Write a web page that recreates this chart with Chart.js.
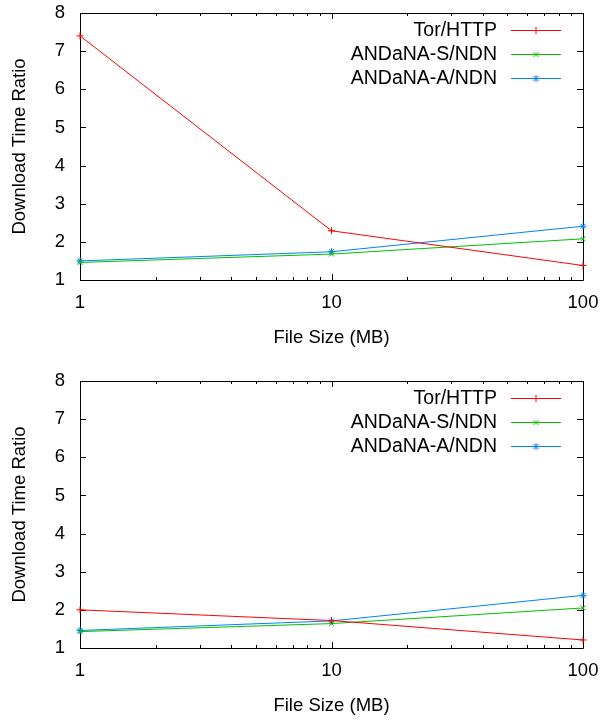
<!DOCTYPE html>
<html>
<head>
<meta charset="utf-8">
<script src="https://cdn.jsdelivr.net/npm/chart.js@4/dist/chart.umd.min.js"></script>
<style>
  html, body { margin: 0; padding: 0; background: #fff; }
  #wrap { position: relative; width: 613px; height: 723px; }
  canvas { position: absolute; left: 0; }
  #top { top: 0; }
  #bottom { top: 368px; }
</style>
</head>
<body>
<div id="wrap">
  <canvas id="top" width="613" height="355"></canvas>
  <canvas id="bottom" width="613" height="355"></canvas>
</div>
<script>
// ── Data ────────────────────────────────────────────
const fileSizes    = [1, 10, 100];
const seriesLabels = ['Tor/HTTP', 'ANDaNA-S/NDN', 'ANDaNA-A/NDN'];

// upper plot
const torTop     = [7.40, 2.29, 1.38];
const andanaSTop = [1.46, 1.68, 2.08];
const andanaATop = [1.50, 1.74, 2.41];

// lower plot
const torBottom     = [2.00, 1.72, 1.21];
const andanaSBottom = [1.43, 1.64, 2.05];
const andanaABottom = [1.46, 1.71, 2.38];

const xTicks = [1, 10, 100];
const yTicks = [1, 2, 3, 4, 5, 6, 7, 8];

const xTitle = 'File Size (MB)';
const yTitle = 'Download Time Ratio';

// ── Styling ──────────────────────────────────────────
const FONT = "'Liberation Sans', Arial, Helvetica, sans-serif";
const COLORS = ['#ff0000', '#00c000', '#0080ff'];
const MARKERS = ['cross', 'crossRot', 'star'];

// ── Border + inward ticks (gnuplot look) ─────────────
const framePlugin = {
  id: 'frame',
  beforeDatasetsDraw(chart) {
    const { ctx, chartArea: a, scales } = chart;
    const xs = scales.x, ys = scales.y;
    ctx.save();
    ctx.strokeStyle = '#000';
    ctx.lineWidth = 1;
    ctx.beginPath();
    ctx.rect(Math.round(a.left) + 0.5, Math.round(a.top) + 0.5,
             Math.round(a.right - a.left), Math.round(a.bottom - a.top));
    ctx.stroke();

    const MAJ = 6, MIN = 3;
    ctx.beginPath();
    // x major + minor ticks, bottom and top
    for (let d = 1; d < 100; d *= 10) {
      for (let k = 1; k <= 10; k++) {
        const v = d * k;
        const px = Math.round(xs.getPixelForValue(v)) + 0.5;
        const len = (k === 1 || k === 10) ? MAJ : MIN;
        ctx.moveTo(px, a.bottom); ctx.lineTo(px, a.bottom - len);
        ctx.moveTo(px, a.top);    ctx.lineTo(px, a.top + len);
      }
    }
    // y major ticks, left and right
    yTicks.forEach(v => {
      const py = Math.round(ys.getPixelForValue(v)) + 0.5;
      ctx.moveTo(a.left, py);  ctx.lineTo(a.left + MAJ, py);
      ctx.moveTo(a.right, py); ctx.lineTo(a.right - MAJ, py);
    });
    ctx.stroke();
    ctx.restore();
  }
};

// ── Key in the upper right corner ────────────────────
const keyPlugin = {
  id: 'key',
  afterDatasetsDraw(chart) {
    const { ctx, chartArea: a } = chart;
    ctx.save();
    ctx.font = '19.5px ' + FONT;
    ctx.textAlign = 'right';
    ctx.textBaseline = 'middle';
    chart.data.datasets.forEach((ds, i) => {
      const y = a.top + 17 + i * 24;
      ctx.fillStyle = '#000';
      ctx.fillText(ds.label, a.right - 86, y + 1);
      ctx.strokeStyle = ds.borderColor;
      ctx.lineWidth = 1;
      ctx.beginPath();
      ctx.moveTo(a.right - 72, y + 0.5);
      ctx.lineTo(a.right - 22, y + 0.5);
      ctx.stroke();
      Chart.helpers.drawPoint(ctx, {
        pointStyle: ds.pointStyle, radius: ds.pointRadius, rotation: 0, borderWidth: 1
      }, a.right - 47, y + 0.5);
    });
    ctx.restore();
  }
};

function makeDatasets(series) {
  return series.map((vals, i) => ({
    label: seriesLabels[i],
    data: fileSizes.map((x, j) => ({ x: x, y: vals[j] })),
    borderColor: COLORS[i],
    backgroundColor: COLORS[i],
    borderWidth: 1,
    pointStyle: MARKERS[i],
    pointRadius: 3.5,
    pointBorderWidth: 1,
    pointHoverRadius: 3.5,
    tension: 0,
    clip: false,
  }));
}

function makeChart(id, series) {
  return new Chart(document.getElementById(id), {
    type: 'line',
    data: { datasets: makeDatasets(series) },
    options: {
      responsive: false,
      animation: false,
      events: [],
      layout: { padding: { left: 0, right: 30, top: 13, bottom: 0 } },
      plugins: { legend: { display: false }, tooltip: { enabled: false } },
      scales: {
        x: {
          type: 'logarithmic',
          min: 1,
          max: 100,
          afterBuildTicks: s => { s.ticks = xTicks.map(v => ({ value: v })); },
          afterFit: s => { s.height = 75; s.paddingLeft = 0; s.paddingRight = 0; },
          grid: { display: false, drawTicks: false },
          border: { display: false },
          ticks: {
            color: '#000',
            padding: 12,
            maxRotation: 0,
            autoSkip: false,
            font: { family: FONT, size: 18.5 },
            callback: v => String(v),
          },
          title: {
            display: true,
            text: xTitle,
            color: '#000',
            font: { family: FONT, size: 18.5 },
            padding: { top: 0, bottom: 6 },
          },
        },
        y: {
          type: 'linear',
          min: 1,
          max: 8,
          afterBuildTicks: s => { s.ticks = yTicks.map(v => ({ value: v })); },
          afterFit: s => { s.width = 80; s.paddingTop = 0; s.paddingBottom = 0; },
          grid: { display: false, drawTicks: false },
          border: { display: false },
          ticks: {
            color: '#000',
            padding: 15,
            font: { family: FONT, size: 18.5 },
            callback: v => String(v),
          },
          title: {
            display: true,
            text: yTitle,
            color: '#000',
            font: { family: FONT, size: 18.5 },
            padding: { top: 9, bottom: 0 },
          },
        },
      },
    },
    plugins: [framePlugin, keyPlugin],
  });
}

document.addEventListener('DOMContentLoaded', () => {
  makeChart('top',    [torTop, andanaSTop, andanaATop]);
  makeChart('bottom', [torBottom, andanaSBottom, andanaABottom]);
});
</script>
</body>
</html>
